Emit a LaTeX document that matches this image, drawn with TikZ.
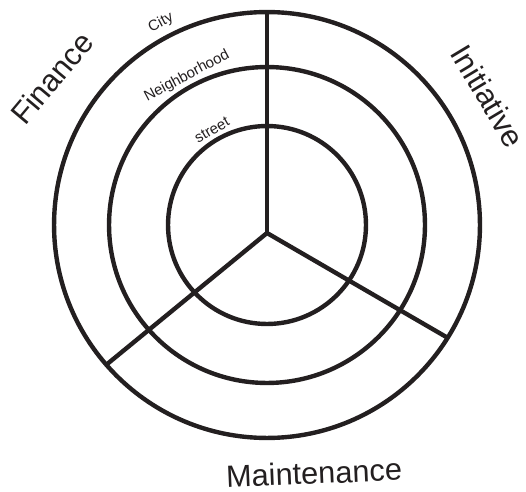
\documentclass[tikz,border=0pt]{standalone}
\usepackage{fontspec}
\setmainfont{Liberation Sans}
\usetikzlibrary{positioning}
\definecolor{Ink}{RGB}{35,31,32}

\begin{document}
\begin{tikzpicture}[x=0.02cm,y=-0.02cm,
    ring/.style={draw=Ink,line width=2.5pt},
    spoke/.style={draw=Ink,line width=2.5pt,line cap=butt},
    sector/.style={text=Ink,font=\fontsize{17.5}{20}\selectfont,inner sep=0pt},
    level/.style={text=Ink,font=\fontsize{8.5}{10}\selectfont,inner sep=0pt}
]
\useasboundingbox (0,0) rectangle (526,492);

% Centres
\coordinate (o) at (267,225);
\coordinate (hub) at (267,233);

% Rings
\draw[ring] (o) circle[radius=4.26cm];
\draw[ring] (o) circle[radius=3.16cm];
\draw[ring] (o) circle[radius=1.98cm];

% Spoke ends on the outer ring
\coordinate (top) at (267,12);
\coordinate (right) at (448,338);
\coordinate (left) at (106,365);

% Spokes
\draw[spoke] (hub) -- (top);
\draw[spoke] (hub) -- (right);
\draw[spoke] (hub) -- (left);

% Ring labels
\node[level,rotate=28] (city) at (161,23) {City};
\node[level,rotate=28] (hood) at (187,76) {Neighborhood};
\node[level,rotate=30] (street) at (212,130) {street};

% Sector labels
\node[sector,rotate=50] (finance) at (52,78) {Finance};
\node[sector,rotate=-59] (initiative) at (488,96) {Initiative};
\node[sector,rotate=2.5] (maint) at (314,473) {Maintenance};

\end{tikzpicture}
\end{document}
